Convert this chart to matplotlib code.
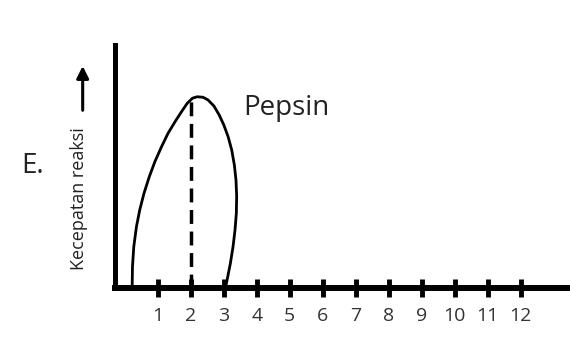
import matplotlib.pyplot as plt

# data
ticks = [1, 2, 3, 4, 5, 6, 7, 8, 9, 10, 11, 12]
# loop-shaped curve for pepsin (left side up, then right side down)
kurva_x = [0.22, 0.23, 0.27, 0.35, 0.45, 0.58, 0.74, 0.91, 1.11, 1.31,
           1.52, 1.72, 1.89, 2.05, 2.19,
           2.37, 2.52, 2.70, 2.86, 3.00, 3.13, 3.24, 3.32, 3.37, 3.39,
           3.38, 3.34, 3.28, 3.20, 3.12, 3.05]
kurva_y = [0.0, 0.88, 1.70, 2.52, 3.21, 3.90, 4.58, 5.20, 5.81, 6.37,
           6.84, 7.26, 7.60, 7.81, 7.87,
           7.85, 7.74, 7.49, 7.12, 6.71, 6.23, 5.68, 5.06, 4.44, 3.76,
           3.07, 2.39, 1.70, 1.02, 0.47, 0.0]
puncak_x = 2        # pH optimum (dashed line)
puncak_y = 7.8

plt.rcParams['font.family'] = ['Open Sans', 'DejaVu Sans']

fig = plt.figure(figsize=(5.7, 3.4), dpi=100)
ax = fig.add_axes([115 / 570, 52 / 340, 455 / 570, 243 / 340])

ax.plot(kurva_x, kurva_y, color='black', lw=2.0, clip_on=False,
        solid_capstyle='round', solid_joinstyle='round')
ax.plot([puncak_x, puncak_x], [0, puncak_y], color='black', lw=2.5,
        dashes=(4, 2.2), clip_on=False)

ax.set_xlim(-0.3, 13.5)
ax.set_ylim(0, 10)
ax.spines['top'].set_visible(False)
ax.spines['right'].set_visible(False)
ax.spines['left'].set_linewidth(3.6)
ax.spines['bottom'].set_linewidth(4.3)
ax.set_xticks(ticks)
ax.set_xticklabels([str(t) for t in ticks])
ax.set_yticks([])
ax.tick_params(axis='x', direction='inout', length=13, width=3.5,
               labelsize=14, pad=7, colors='black', labelcolor='#333333')

ax.text(3.58, 7.4, 'Pepsin', fontsize=20, va='center', ha='left',
        color='#222222')
fig.text(21 / 570, 1 - 166 / 340, 'E.', fontsize=20, va='center',
         ha='left', color='#222222')
fig.text(79 / 570, 1 - 199 / 340, 'Kecepatan reaksi', fontsize=13,
         rotation=90, va='center', ha='center', color='#222222')
ax.annotate('', xy=(-1.28, 9.25), xytext=(-1.28, 7.2),
            xycoords='data', textcoords='data', annotation_clip=False,
            arrowprops=dict(arrowstyle='-|>', color='black', lw=2.2,
                            mutation_scale=18))

fig.savefig('out.png', dpi=100)
